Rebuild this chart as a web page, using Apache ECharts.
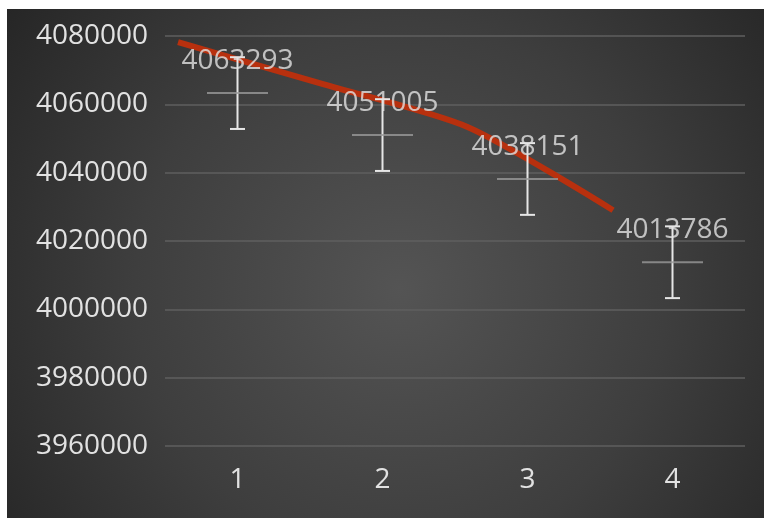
<!DOCTYPE html>
<html>
<head>
<meta charset="utf-8">
<script src="https://cdn.jsdelivr.net/npm/echarts@6/dist/echarts.min.js"></script>
<style>
html,body{margin:0;padding:0;background:#ffffff;}
#chart{position:absolute;left:7px;top:9px;width:757px;height:509px;}
</style>
</head>
<body>
<div id="chart"></div>
<script>
const categories = ['1', '2', '3', '4'];
const values = [4063293, 4051005, 4038151, 4013786];
const errors = [10500, 10500, 10500, 10500];
const trendX = [0.59, 1.59, 2.59, 3.59];
const trendValues = [4078200, 4065900, 4053300, 4029000];
const yTicks = [3960000, 3980000, 4000000, 4020000, 4040000, 4060000, 4080000];

const chart = echarts.init(document.getElementById('chart'), null, {renderer: 'canvas'});
const FONT = '"Open Sans", "Noto Sans", sans-serif';
const TXT = '#e2e2e2';

const errData = values.map((v, i) => [i, v - errors[i], v + errors[i]]);
const trendData = trendX.map((x, i) => [x, trendValues[i]]);

chart.setOption({
  animation: false,
  backgroundColor: {
    type: 'radial', x: 0.52, y: 0.55, r: 0.95,
    colorStops: [
      {offset: 0, color: '#545454'},
      {offset: 0.55, color: '#3e3e3e'},
      {offset: 1, color: '#262626'}
    ]
  },
  grid: {left: 158, right: 19, top: 27, bottom: 72},
  xAxis: [{
    type: 'category',
    data: categories,
    boundaryGap: true,
    axisLine: {show: false},
    axisTick: {show: false},
    axisLabel: {color: TXT, fontFamily: FONT, fontSize: 28, margin: 20}
  }, {
    type: 'value', min: 0.5, max: 4.5, show: false
  }],
  yAxis: {
    type: 'value',
    min: yTicks[0], max: yTicks[yTicks.length - 1], interval: 20000,
    axisLine: {show: false},
    axisTick: {show: false},
    splitLine: {lineStyle: {color: '#5f5f5f', width: 1.5}},
    axisLabel: {color: TXT, fontFamily: FONT, fontSize: 28, margin: 17,
      formatter: function (v) { return String(v); }}
  },
  series: [{
    type: 'line',
    xAxisIndex: 1,
    data: trendData,
    smooth: 0.25,
    symbol: 'none',
    z: 1,
    lineStyle: {color: '#b8300e', width: 6}
  }, {
    type: 'custom',
    data: errData,
    encode: {x: 0, y: [1, 2]},
    z: 2,
    renderItem: function (params, api) {
      const lo = api.coord([api.value(0), api.value(1)]);
      const hi = api.coord([api.value(0), api.value(2)]);
      const cw = 7.5;
      const st = {stroke: '#e6e6e6', lineWidth: 2};
      return {
        type: 'group',
        children: [
          {type: 'line', shape: {x1: lo[0], y1: lo[1], x2: hi[0], y2: hi[1]}, style: st},
          {type: 'line', shape: {x1: lo[0] - cw, y1: lo[1], x2: lo[0] + cw, y2: lo[1]}, style: st},
          {type: 'line', shape: {x1: hi[0] - cw, y1: hi[1], x2: hi[0] + cw, y2: hi[1]}, style: st}
        ]
      };
    }
  }, {
    type: 'scatter',
    data: values,
    symbol: 'rect',
    symbolSize: [61, 2],
    itemStyle: {color: '#9a9a9a'},
    z: 3,
    label: {
      show: true, position: 'top', distance: 17,
      color: TXT, fontFamily: FONT, fontSize: 28
    }
  }]
});
</script>
</body>
</html>
